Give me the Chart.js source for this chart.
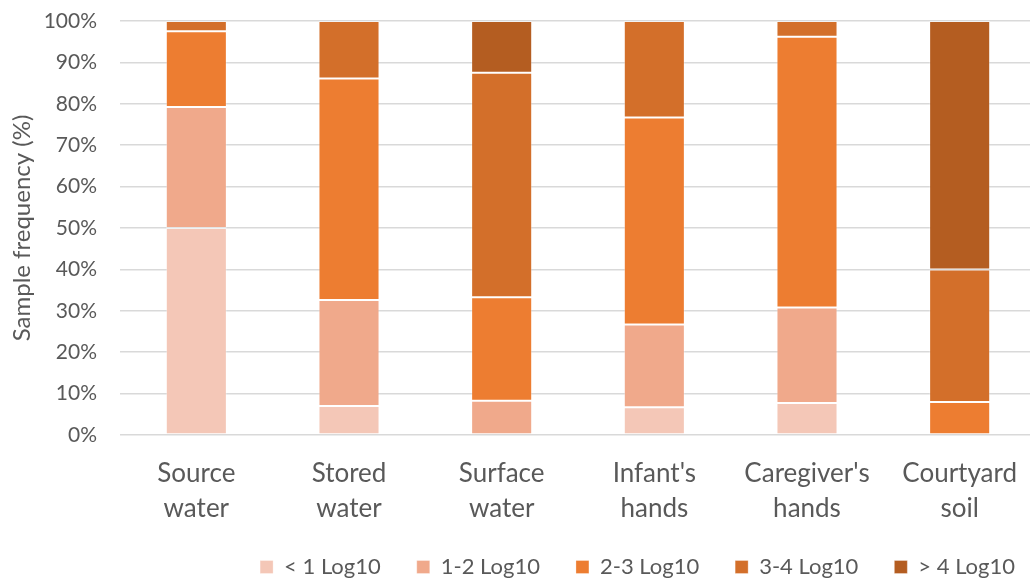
<!DOCTYPE html>
<html>
<head>
<meta charset="utf-8">
<script src="https://cdn.jsdelivr.net/npm/chart.js@4/dist/chart.umd.min.js"></script>
<style>
    html, body { margin: 0; padding: 0; background: #fff; overflow: hidden; }
    #zone { position: relative; width: 1040px; height: 579px; }
</style>
</head>
<body>
<div id="zone"><canvas id="graphFrequence"></canvas></div>
<script>
// sample types
var categories = [
    ["Source", "water"],
    ["Stored", "water"],
    ["Surface", "water"],
    ["Infant's", "hands"],
    ["Caregiver's", "hands"],
    ["Courtyard", "soil"]
];

// % of samples in each Log10 class
var moinsDe1 = [50.0, 7.0, 0, 6.7, 7.7, 0];
var de1a2    = [29.2, 25.6, 8.3, 20.0, 23.1, 0];
var de2a3    = [18.3, 53.5, 25.0, 50.0, 65.4, 8.0];
var de3a4    = [2.5, 13.9, 54.2, 23.3, 3.8, 32.0];
var plusDe4  = [0, 0, 12.5, 0, 0, 60.0];

var classes = ["< 1 Log10", "1-2 Log10", "2-3 Log10", "3-4 Log10", "> 4 Log10"];
var yTicks = [0, 10, 20, 30, 40, 50, 60, 70, 80, 90, 100];

var couleurs = ["#F4C7B7", "#F0A98B", "#ED7D31", "#D36F2A", "#B45D21"];
var series = [moinsDe1, de1a2, de2a3, de3a4, plusDe4];

var gris = "#595959";
var police = "Lato";

var datasets = [];
for (var i in series)
{
    datasets.push({
        label: classes[i],
        data: series[i],
        backgroundColor: couleurs[i],
        borderColor: "rgba(255,255,255,0.3)",
        borderWidth: 1,
        borderSkipped: false,
        categoryPercentage: 0.4,
        barPercentage: 1
    });
}

// moves the legend line to the lower right, and lets the
// two-line category labels run below the x axis box
var placerLegende = {
    id: "placerLegende",
    afterLayout: function(chart)
    {
        var lg = chart.legend;
        var pad = lg.options.labels.padding;
        var h = lg.bottom - lg.top;
        lg.right = 1015 + pad;
        lg.left = 200;
        lg.top = 567 - pad - lg.options.labels.font.size / 2;
        lg.bottom = lg.top + h;
        chart.scales.x.bottom = chart.height;
    }
};

var graph = new Chart(document.getElementById("graphFrequence"), {
    type: "bar",
    data: {
        labels: categories,
        datasets: datasets
    },
    plugins: [placerLegende],
    options: {
        responsive: true,
        maintainAspectRatio: false,
        animation: false,
        layout: {
            padding: { top: 21, right: 4, bottom: 0, left: 0 }
        },
        plugins: {
            legend: {
                position: "bottom",
                align: "end",
                labels: {
                    boxWidth: 13,
                    boxHeight: 13,
                    padding: 36,
                    color: gris,
                    font: { family: police, size: 22 }
                }
            },
            tooltip: { enabled: false }
        },
        scales: {
            x: {
                stacked: true,
                grid: { display: false },
                border: { display: false },
                ticks: {
                    color: gris,
                    padding: 13,
                    maxRotation: 0,
                    autoSkip: false,
                    font: { family: police, size: 26, lineHeight: 1.35 }
                },
                afterFit: function(scale) { scale.height = 76; }
            },
            y: {
                stacked: true,
                min: 0,
                max: 100,
                afterBuildTicks: function(scale)
                {
                    scale.ticks = yTicks.map(function(v) { return { value: v }; });
                },
                grid: {
                    color: "#D9D9D9",
                    lineWidth: 1.5,
                    drawTicks: false
                },
                border: { display: false },
                ticks: {
                    color: gris,
                    padding: 23,
                    font: { family: police, size: 21 },
                    callback: function(v) { return v + "%"; }
                },
                title: {
                    display: true,
                    text: "Sample frequency (%)",
                    color: gris,
                    padding: { top: 8, bottom: 0 },
                    font: { family: police, size: 24 }
                },
                afterFit: function(scale)
                {
                    scale.width = 120;
                    // tick padding is horizontal here, not above the 100% line
                    scale.paddingTop = 12;
                    scale.paddingBottom = 12;
                }
            }
        }
    }
});
</script>
</body>
</html>
